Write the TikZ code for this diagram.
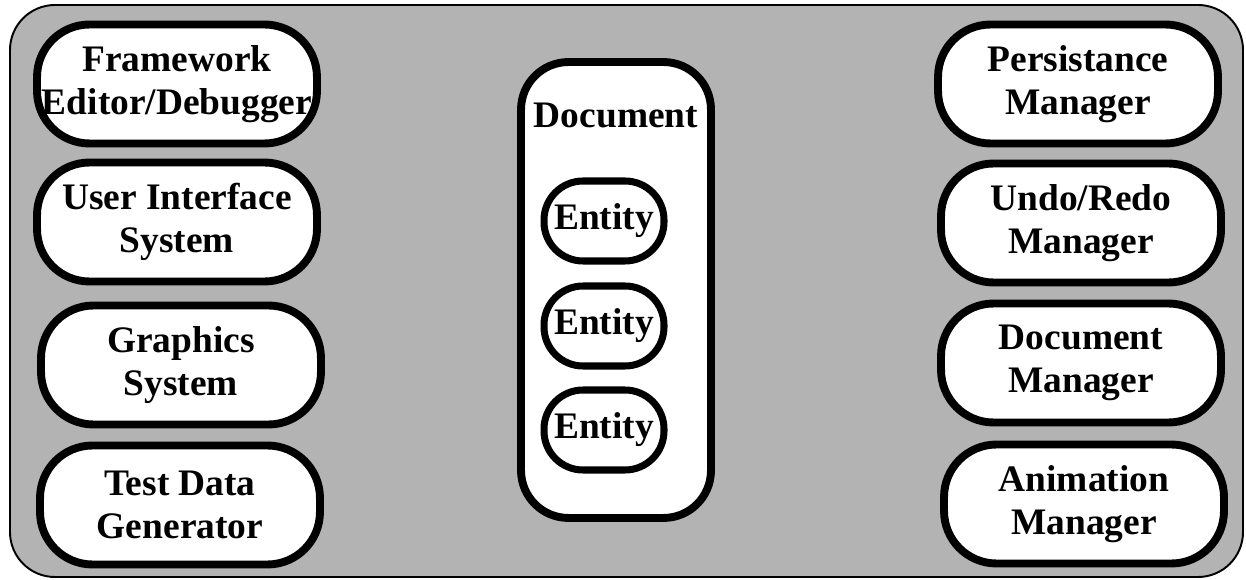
\documentclass[tikz,border=0pt]{standalone}
\usepackage{fontspec}
\setmainfont{Liberation Serif}

\definecolor{panelgray}{RGB}{179,179,179}

\begin{document}
\begin{tikzpicture}[
x=0.02cm, y=-0.02cm,
label/.style={font=\bfseries\fontsize{21.3}{24.5}\selectfont, align=center, inner sep=0pt},
module/.style={label, draw, fill=white, line width=4.5pt, rounded corners=1.05cm, minimum width=5.6cm, minimum height=2.38cm},
entity/.style={label, draw, fill=white, line width=4pt, rounded corners=0.78cm, minimum width=2.4cm, minimum height=1.6cm},
container/.style={draw, fill=white, line width=4.5pt, rounded corners=0.95cm, minimum width=3.8cm, minimum height=9.12cm},
panel/.style={draw, fill=panelgray, line width=1.1pt, rounded corners=0.9cm} ]

\useasboundingbox (0,0) rectangle (1246,580);

\draw[panel] (10,5) rectangle (1243,577);

% left column
\node[module](editor) at (177,84) {Framework\\Editor/Debugger};

\node[module](ui) at (177,222) {User Interface\\System};

\node[module](graphics) at (181,365) {Graphics\\System};

\node[module](testdata) at (180,505) {Test Data\\Generator};

% right column
\node[module](persist) at (1078,84) {Persistance\\Manager};

\node[module](undo) at (1081,223) {Undo/Redo\\Manager};

\node[module](docmgr) at (1081,363) {Document\\Manager};

\node[module](anim) at (1084,504) {Animation\\Manager};

% document with its entities
\node[container](doc) at (616,290) {};

\node[label, anchor=base](doctitle) at (616,128) {Document};

\node[entity](ent1) at (604,221) {Entity};

\node[entity](ent2) at (604,326) {Entity};

\node[entity](ent3) at (604,430) {Entity};

\end{tikzpicture}
\end{document}
